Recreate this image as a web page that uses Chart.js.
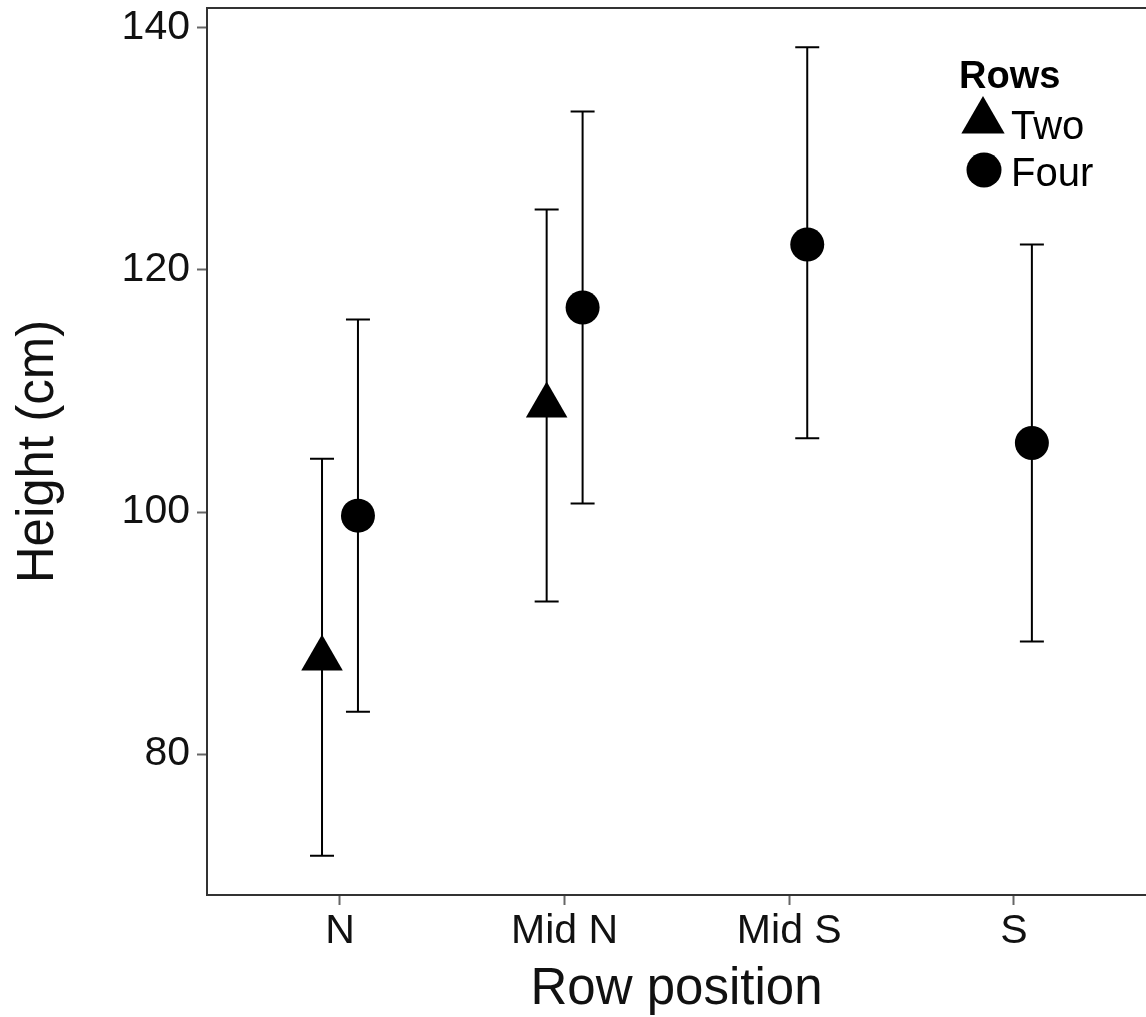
<!DOCTYPE html>
<html>
<head>
<meta charset="utf-8">
<script src="https://cdn.jsdelivr.net/npm/chart.js@4"></script>
<style>
  html, body { margin: 0; padding: 0; background: #fff; }
  #wrap { width: 1146px; height: 1017px; }
</style>
</head>
<body>
<div id="wrap"><canvas id="chart" width="1146" height="1017"></canvas></div>
<script>
// row positions on the x axis
const positions = ['N', 'Mid N', 'Mid S', 'S'];

// two-row plots (only N and Mid N)
const twoX = [1, 2];
const twoMean = [87.9, 108.8];
const twoLow = [71.6, 92.6];
const twoHigh = [104.4, 125.0];

// four-row plots
const fourX = [1, 2, 3, 4];
const fourMean = [99.7, 116.9, 122.1, 105.7];
const fourLow = [83.5, 100.7, 106.1, 89.3];
const fourHigh = [115.9, 133.1, 138.4, 122.1];

const yTicks = [80, 100, 120, 140];
const DODGE = 0.08;

const FONT = '"Liberation Sans", Arial, sans-serif';

function toPoints(xs, means, lows, highs, shift) {
    return xs.map((x, i) => ({ x: x + shift, y: means[i], lo: lows[i], hi: highs[i] }));
}

// error bars drawn under the points
const errorBars = {
    id: 'errorBars',
    beforeDatasetsDraw(chart) {
        const { ctx, scales: { x, y } } = chart;
        ctx.save();
        ctx.strokeStyle = '#000';
        ctx.lineWidth = 2;
        chart.data.datasets.forEach(ds => {
            ds.data.forEach(p => {
                const px = x.getPixelForValue(p.x);
                const top = y.getPixelForValue(p.hi);
                const bot = y.getPixelForValue(p.lo);
                ctx.beginPath();
                ctx.moveTo(px, top); ctx.lineTo(px, bot);
                ctx.moveTo(px - 12, top); ctx.lineTo(px + 12, top);
                ctx.moveTo(px - 12, bot); ctx.lineTo(px + 12, bot);
                ctx.stroke();
            });
        });
        ctx.restore();
    }
};

// top border of panel + legend inside the panel
const panelExtras = {
    id: 'panelExtras',
    afterDraw(chart) {
        const { ctx, chartArea } = chart;
        ctx.save();
        ctx.strokeStyle = '#333';
        ctx.lineWidth = 2;
        ctx.beginPath();
        ctx.moveTo(chartArea.left, chartArea.top);
        ctx.lineTo(chartArea.right, chartArea.top);
        ctx.stroke();

        ctx.fillStyle = '#000';
        ctx.textBaseline = 'alphabetic';
        ctx.textAlign = 'left';
        ctx.font = 'bold 38px ' + FONT;
        ctx.fillText('Rows', 959, 88);
        ctx.font = '40px ' + FONT;
        ctx.fillText('Two', 1011, 139);
        ctx.fillText('Four', 1011, 186);
        // legend keys
        const r = 25;
        const tx = 983, ty = 121;
        ctx.beginPath();
        ctx.moveTo(tx, ty - r);
        ctx.lineTo(tx + r * Math.sin(2 * Math.PI / 3), ty - r * Math.cos(2 * Math.PI / 3));
        ctx.lineTo(tx + r * Math.sin(4 * Math.PI / 3), ty - r * Math.cos(4 * Math.PI / 3));
        ctx.closePath();
        ctx.fill();
        ctx.beginPath();
        ctx.arc(984, 170, 17.5, 0, Math.PI * 2);
        ctx.fill();
        ctx.restore();
    }
};

new Chart(document.getElementById('chart'), {
    type: 'scatter',
    data: {
        datasets: [
            {
                label: 'Two',
                data: toPoints(twoX, twoMean, twoLow, twoHigh, -DODGE),
                pointStyle: 'triangle',
                pointRadius: 24,
                pointHoverRadius: 24,
                backgroundColor: '#000',
                borderColor: '#000',
                borderWidth: 0
            },
            {
                label: 'Four',
                data: toPoints(fourX, fourMean, fourLow, fourHigh, DODGE),
                pointStyle: 'circle',
                pointRadius: 17,
                pointHoverRadius: 17,
                backgroundColor: '#000',
                borderColor: '#000',
                borderWidth: 0
            }
        ]
    },
    options: {
        responsive: false,
        animation: false,
        layout: { autoPadding: false, padding: { left: 0, right: 0, top: 8, bottom: 0 } },
        plugins: {
            legend: { display: false },
            tooltip: { enabled: false }
        },
        scales: {
            x: {
                type: 'linear',
                min: 0.408,
                max: 4.588,
                afterBuildTicks(scale) {
                    scale.ticks = positions.map((_, i) => ({ value: i + 1 }));
                },
                afterFit(scale) {
                    scale.height = 122;
                    scale.paddingLeft = 0;
                    scale.paddingRight = 0;
                },
                ticks: {
                    callback: v => positions[v - 1],
                    color: '#111',
                    font: { family: FONT, size: 41 },
                    padding: 2
                },
                grid: { drawOnChartArea: false, tickLength: 10, color: '#666', tickWidth: 2 },
                border: { display: true, color: '#333', width: 2 },
                title: {
                    display: true,
                    text: 'Row position',
                    color: '#111',
                    font: { family: FONT, size: 51 },
                    padding: { top: 8, bottom: -4 }
                }
            },
            y: {
                min: 68.35,
                max: 141.65,
                afterBuildTicks(scale) {
                    scale.ticks = yTicks.map(v => ({ value: v }));
                },
                afterFit(scale) {
                    scale.width = 207;
                    scale.paddingTop = 0;
                    scale.paddingBottom = 0;
                },
                ticks: {
                    color: '#111',
                    font: { family: FONT, size: 41 },
                    padding: 7
                },
                grid: { drawOnChartArea: false, tickLength: 10, color: '#666', tickWidth: 2 },
                border: { display: true, color: '#333', width: 2 },
                title: {
                    display: true,
                    text: 'Height (cm)',
                    color: '#111',
                    font: { family: FONT, size: 51 },
                    padding: { top: 8, bottom: 0 }
                }
            }
        }
    },
    plugins: [errorBars, panelExtras]
});
</script>
</body>
</html>
